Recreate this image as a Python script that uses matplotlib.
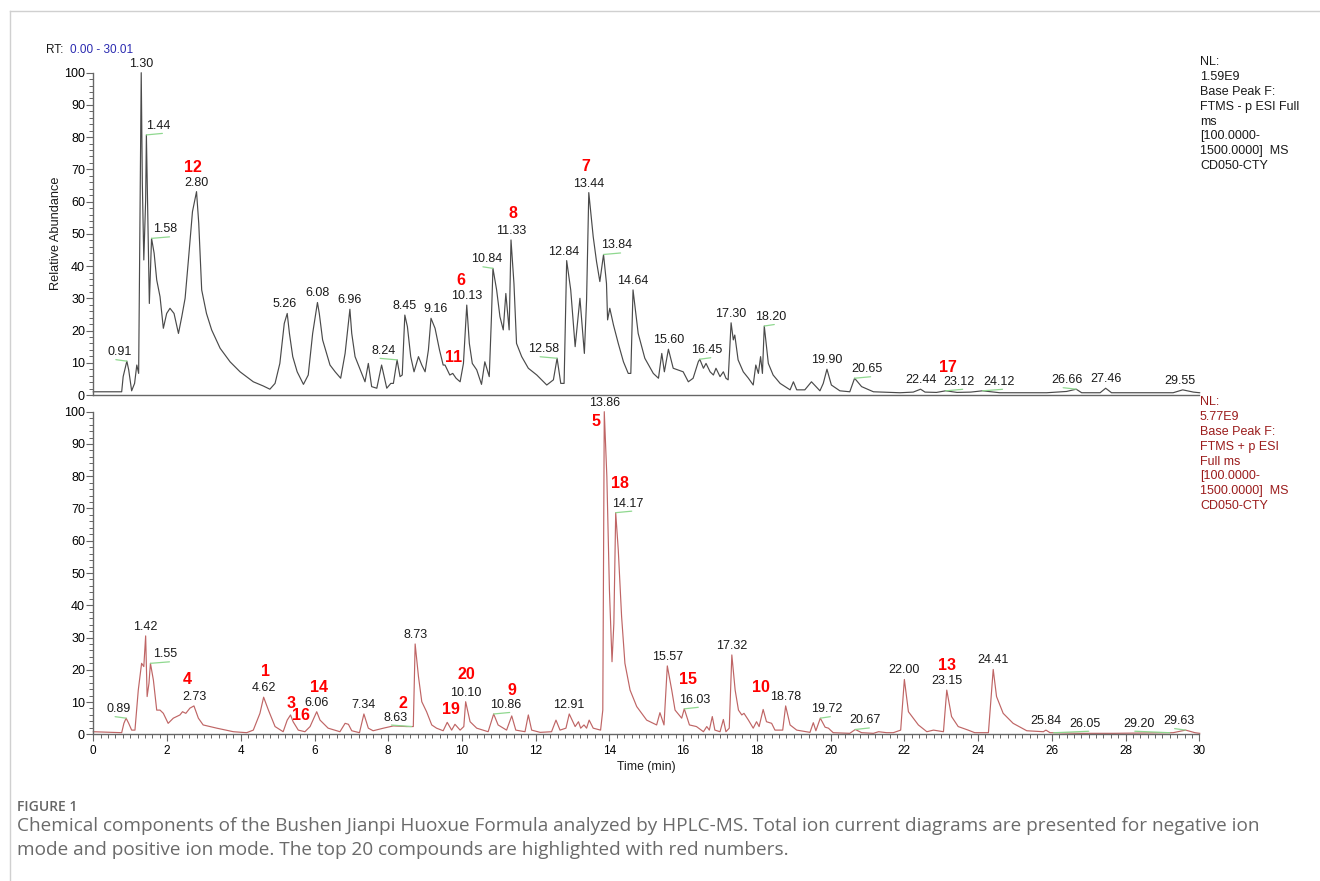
import numpy as np
import matplotlib.pyplot as plt
from matplotlib.lines import Line2D
from matplotlib.ticker import MultipleLocator

plt.rcParams['font.family'] = ['Liberation Sans', 'DejaVu Sans']

# negative ion mode, base peak chromatogram (time [min], relative abundance [%])
neg_time = [0.00, 0.77, 0.81, 0.91, 0.96, 1.04, 1.12, 1.18, 1.23, 1.30, 1.33, 1.37,
            1.42, 1.44, 1.48, 1.52, 1.58, 1.65, 1.72, 1.81, 1.90, 1.99, 2.08, 2.19,
            2.31, 2.40, 2.49, 2.58, 2.69, 2.80, 2.86, 2.94, 3.07, 3.21, 3.44, 3.71,
            3.98, 4.34, 4.61, 4.79, 4.93, 5.06, 5.18, 5.26, 5.32, 5.41, 5.53, 5.70,
            5.83, 5.95, 6.08, 6.13, 6.22, 6.42, 6.56, 6.71, 6.83, 6.96, 7.01, 7.10,
            7.19, 7.28, 7.37, 7.46, 7.55, 7.69, 7.82, 7.96, 8.07, 8.14, 8.24, 8.32,
            8.38, 8.45, 8.52, 8.61, 8.70, 8.82, 8.91, 9.00, 9.09, 9.16, 9.27, 9.39,
            9.49, 9.54, 9.67, 9.75, 9.84, 9.95, 10.04, 10.13, 10.20, 10.28, 10.40, 10.53,
            10.62, 10.74, 10.80, 10.84, 10.94, 11.03, 11.12, 11.19, 11.28, 11.33, 11.41, 11.48,
            11.62, 11.80, 12.03, 12.30, 12.48, 12.58, 12.68, 12.77, 12.84, 12.95, 13.07, 13.20,
            13.32, 13.38, 13.44, 13.56, 13.65, 13.74, 13.84, 13.92, 13.95, 14.01, 14.11, 14.24,
            14.38, 14.51, 14.58, 14.64, 14.78, 14.96, 15.19, 15.33, 15.42, 15.49, 15.60, 15.73,
            16.00, 16.14, 16.27, 16.41, 16.45, 16.55, 16.62, 16.73, 16.82, 16.89, 17.00, 17.09,
            17.16, 17.22, 17.30, 17.36, 17.40, 17.49, 17.63, 17.77, 17.90, 17.97, 18.04, 18.10,
            18.15, 18.20, 18.31, 18.44, 18.63, 18.90, 18.99, 19.08, 19.30, 19.48, 19.71, 19.80,
            19.90, 20.02, 20.25, 20.52, 20.65, 20.84, 21.16, 21.61, 21.88, 22.24, 22.44, 22.56,
            22.87, 23.12, 23.43, 23.80, 24.12, 24.59, 25.86, 26.40, 26.66, 26.81, 27.31, 27.46,
            27.62, 29.29, 29.55, 29.84, 30.01]
neg_abund = [1.0, 1.0, 5.7, 10.5, 7.8, 1.3, 3.6, 9.3, 6.7, 100.0, 65.7, 41.9,
             60.5, 80.7, 55.3, 28.4, 48.6, 44.0, 35.7, 30.5, 20.7, 25.3, 26.9, 25.3,
             19.1, 24.3, 30.0, 41.9, 56.9, 63.1, 53.3, 32.6, 25.3, 20.2, 14.5, 10.3,
             7.2, 4.1, 2.8, 1.8, 3.6, 9.8, 22.2, 25.3, 19.1, 11.9, 7.2, 3.3,
             6.2, 19.1, 28.7, 25.3, 17.1, 9.3, 7.2, 5.2, 12.9, 26.6, 19.1, 11.9,
             9.3, 6.7, 4.1, 9.8, 2.6, 2.1, 9.3, 2.1, 3.6, 3.6, 10.9, 5.7,
             6.2, 24.8, 21.2, 11.9, 7.2, 11.9, 9.3, 7.2, 14.0, 23.8, 20.7, 14.0,
             9.3, 9.3, 6.2, 6.7, 5.2, 4.1, 9.8, 27.9, 16.0, 9.8, 7.8, 3.3,
             10.3, 5.7, 24.3, 39.3, 32.6, 24.3, 20.2, 31.5, 20.2, 48.1, 34.6, 16.0,
             11.9, 8.3, 6.2, 3.1, 4.7, 11.4, 3.6, 3.6, 41.7, 32.6, 15.0, 30.0,
             12.9, 29.5, 62.8, 49.1, 41.4, 35.2, 43.6, 34.6, 23.3, 26.9, 21.7, 16.0,
             10.3, 6.7, 6.7, 32.6, 19.1, 11.4, 6.7, 5.2, 12.9, 7.2, 14.2, 8.3,
             7.2, 4.1, 5.2, 10.3, 11.1, 8.3, 9.8, 7.2, 6.2, 8.3, 5.7, 7.2,
             5.2, 4.7, 22.4, 17.1, 18.6, 10.9, 7.2, 5.2, 3.1, 9.3, 6.7, 11.9,
             6.7, 21.4, 9.8, 6.2, 3.6, 1.6, 4.1, 1.6, 1.6, 4.1, 1.3, 3.6,
             8.0, 3.1, 1.3, 1.0, 5.2, 2.6, 1.0, 0.8, 0.7, 0.9, 1.8, 0.9,
             0.8, 1.3, 0.8, 0.9, 1.3, 0.7, 0.7, 1.1, 1.8, 0.7, 0.7, 2.1,
             0.7, 0.7, 1.6, 0.9, 0.7]

# positive ion mode, base peak chromatogram
pos_time = [0.00, 0.77, 0.83, 0.89, 0.96, 1.04, 1.13, 1.22, 1.31, 1.37, 1.42, 1.46,
            1.51, 1.55, 1.63, 1.72, 1.81, 1.90, 2.03, 2.17, 2.35, 2.42, 2.51, 2.62,
            2.73, 2.85, 2.98, 3.35, 3.80, 4.16, 4.34, 4.52, 4.62, 4.75, 4.93, 5.15,
            5.26, 5.35, 5.42, 5.56, 5.74, 5.88, 6.06, 6.15, 6.37, 6.69, 6.83, 6.92,
            7.01, 7.22, 7.34, 7.46, 7.59, 7.87, 8.14, 8.50, 8.68, 8.73, 8.82, 8.91,
            9.04, 9.18, 9.31, 9.49, 9.60, 9.72, 9.81, 9.95, 10.05, 10.10, 10.22, 10.40,
            10.71, 10.86, 10.98, 11.21, 11.35, 11.46, 11.71, 11.80, 11.89, 12.12, 12.43, 12.55,
            12.66, 12.82, 12.91, 13.07, 13.16, 13.22, 13.31, 13.38, 13.45, 13.56, 13.76, 13.82,
            13.86, 13.93, 14.00, 14.07, 14.12, 14.17, 14.24, 14.33, 14.42, 14.56, 14.74, 15.01,
            15.28, 15.37, 15.48, 15.57, 15.69, 15.78, 15.96, 16.03, 16.17, 16.36, 16.55, 16.64,
            16.71, 16.79, 16.86, 17.00, 17.09, 17.16, 17.25, 17.32, 17.41, 17.50, 17.59, 17.65,
            17.77, 17.90, 17.99, 18.06, 18.17, 18.26, 18.40, 18.49, 18.70, 18.78, 18.90, 19.08,
            19.44, 19.53, 19.60, 19.72, 19.85, 19.94, 20.07, 20.52, 20.67, 20.84, 21.16, 21.30,
            21.52, 21.70, 21.90, 22.00, 22.11, 22.24, 22.38, 22.61, 22.79, 23.06, 23.15, 23.28,
            23.46, 23.73, 23.91, 24.28, 24.41, 24.50, 24.68, 24.95, 25.32, 25.77, 25.84, 25.95,
            26.76, 27.67, 29.29, 29.63, 29.88, 30.01]
pos_abund = [0.8, 0.5, 3.4, 5.0, 3.4, 1.3, 1.3, 13.7, 22.0, 21.0, 30.5, 11.7,
             15.8, 22.0, 16.8, 7.5, 7.5, 6.5, 3.4, 5.0, 6.0, 7.0, 6.5, 8.1,
             8.8, 5.0, 2.9, 1.9, 0.8, 0.5, 1.3, 6.5, 11.5, 7.5, 2.4, 0.8,
             4.4, 6.0, 3.9, 1.3, 0.8, 2.4, 7.0, 4.4, 1.9, 0.8, 3.4, 3.1,
             1.1, 0.5, 6.3, 1.9, 1.1, 1.9, 2.6, 2.4, 2.4, 28.0, 17.9, 10.1,
             7.0, 2.9, 1.9, 1.1, 3.7, 1.3, 3.1, 1.3, 2.4, 10.1, 3.9, 1.9,
             0.8, 6.3, 2.9, 1.3, 5.7, 1.3, 0.8, 6.0, 1.3, 0.6, 0.8, 4.4,
             1.3, 1.9, 6.3, 2.4, 3.9, 1.9, 2.9, 1.9, 4.4, 1.9, 1.3, 7.5,
             100.0, 79.9, 44.7, 22.5, 34.4, 68.7, 57.1, 36.5, 22.0, 13.7, 8.6, 4.4,
             2.9, 6.7, 2.9, 21.2, 13.7, 7.5, 5.0, 7.9, 2.9, 2.4, 0.8, 2.4,
             1.3, 5.5, 1.3, 0.8, 4.6, 0.8, 1.9, 24.6, 13.7, 7.5, 6.0, 6.5,
             4.4, 1.9, 3.9, 2.4, 7.7, 3.9, 3.4, 1.3, 1.3, 8.8, 2.9, 1.3,
             0.6, 3.6, 1.1, 5.0, 2.2, 1.9, 0.5, 0.3, 1.5, 0.5, 0.3, 0.8,
             0.5, 0.5, 1.3, 17.0, 7.0, 5.0, 2.9, 0.8, 1.3, 0.8, 13.7, 5.5,
             2.4, 1.3, 0.5, 0.5, 20.1, 11.7, 6.5, 3.4, 1.1, 0.8, 1.3, 0.5,
             0.3, 0.3, 0.5, 1.3, 0.5, 0.3]

# retention time labels printed above the peaks
neg_peaks = ['0.91', '1.30', '1.44', '1.58', '2.80', '5.26', '6.08', '6.96', '8.24',
             '8.45', '9.16', '10.13', '10.84', '11.33', '12.58', '12.84', '13.44',
             '13.84', '14.64', '15.60', '16.45', '17.30', '18.20', '19.90', '20.65',
             '22.44', '23.12', '24.12', '26.66', '27.46', '29.55']
pos_peaks = ['0.89', '1.42', '1.55', '2.73', '4.62', '6.06', '7.34', '8.63', '8.73',
             '10.10', '10.86', '12.91', '13.86', '14.17', '15.57', '16.03', '17.32',
             '18.78', '19.72', '20.67', '22.00', '23.15', '24.41', '25.84', '26.05',
             '29.20', '29.63']

# top 20 compounds (red number, retention time label it sits next to)
neg_compounds = [('12', '2.80'), ('11', '10.13'), ('6', '10.13'), ('8', '11.33'),
                 ('7', '13.44'), ('17', '23.12')]
pos_compounds = [('4', '2.73'), ('1', '4.62'), ('3', '6.06'), ('16', '6.06'),
                 ('14', '6.06'), ('2', '8.63'), ('19', '10.10'), ('20', '10.10'),
                 ('9', '10.86'), ('5', '13.86'), ('18', '14.17'), ('15', '16.03'),
                 ('10', '18.78'), ('13', '23.15')]

neg_info = ['NL:', '1.59E9', 'Base Peak F:', 'FTMS - p ESI Full', 'ms',
            '[100.0000-', '1500.0000]  MS', 'CD050-CTY']
pos_info = ['NL:', '5.77E9', 'Base Peak F:', 'FTMS + p ESI', 'Full ms',
            '[100.0000-', '1500.0000]  MS', 'CD050-CTY']

caption_title = 'FIGURE 1'
caption = ('Chemical components of the Bushen Jianpi Huoxue Formula analyzed by HPLC-MS. '
           'Total ion current diagrams are presented for negative ion\n'
           'mode and positive ion mode. The top 20 compounds are highlighted with red numbers.')

# --- layout (pixel offsets of labels from their peaks) ---
PX = 0.72  # points per pixel at dpi 100
label_dx = {'0.91': -7, '1.44': 12, '1.58': 14, '5.26': -3, '8.24': -13, '9.16': 5,
            '10.84': -6, '12.58': -13, '12.84': -3, '13.84': 13, '16.45': 7,
            '18.20': 6, '20.65': 12, '23.12': 13, '24.12': 16, '26.66': -9,
            '29.55': -3,
            '0.89': -7, '1.55': 15, '8.63': -16, '10.86': 12, '14.17': 12,
            '16.03': 10, '19.72': 6, '20.67': 10, '26.05': 31, '29.20': -31,
            '29.63': -7}
red_shift = {'12': (-4, -15), '6': (-6, -16), '11': (-13, 61), '8': (2, -17),
             '7': (-3, -17), '17': (-11, -14),
             '4': (-7, -17), '1': (2, -17), '3': (-26, 1), '16': (-16, 13),
             '14': (2, -15), '2': (7, -14), '19': (-15, 17), '20': (1, -18),
             '9': (6, -14), '5': (-8, 19), '18': (-8, -20), '15': (-6, -20),
             '10': (-25, -9), '13': (0, -16)}


def draw_panel(ax, t, y, color, peaks, compounds):
    ax.plot(t, y, color=color, lw=0.85, clip_on=False)
    for p in peaks:
        rt = float(p)
        yp = np.interp(rt, t, y)
        dx = label_dx.get(p, 0)
        ax.annotate(p, xy=(rt, yp), xytext=(dx * PX, 9 * PX),
                    textcoords='offset points', ha='center', va='center',
                    fontsize=9, color='#1a1a1a', annotation_clip=False)
        if abs(dx) >= 6:  # green peak marker
            end = dx + np.sign(dx) * 4
            ax.annotate('', xy=(rt, yp), xytext=(end * PX, 1.5 * PX),
                        textcoords='offset points', annotation_clip=False,
                        arrowprops=dict(arrowstyle='-', color='#8fd88f', lw=0.9,
                                        shrinkA=0, shrinkB=0))
    for num, p in compounds:
        rt = float(p)
        yp = np.interp(rt, t, y)
        cdx, cdy = red_shift[num]
        ax.annotate(num, xy=(rt, yp),
                    xytext=((label_dx.get(p, 0) + cdx) * PX, (9 - cdy) * PX),
                    textcoords='offset points', ha='center', va='center',
                    fontsize=11.5, fontweight='bold', color='#ff0000',
                    annotation_clip=False)


def style_axis(ax):
    for s in ['top', 'right']:
        ax.spines[s].set_visible(False)
    for s in ['left', 'bottom']:
        ax.spines[s].set_color('#666666')
        ax.spines[s].set_linewidth(1.0)
    ax.set_xlim(0, 30)
    ax.set_ylim(0, 100)
    ax.yaxis.set_major_locator(MultipleLocator(10))
    ax.yaxis.set_minor_locator(MultipleLocator(2))
    ax.tick_params(axis='y', which='major', length=5, width=0.8, color='#666666',
                   labelsize=9, pad=1)
    ax.tick_params(axis='y', which='minor', length=3, width=0.7, color='#666666')
    ax.patch.set_alpha(0)


fig = plt.figure(figsize=(13.2, 8.81), dpi=100)
W, H = 1320, 881

ax1 = fig.add_axes([93.3 / W, 1 - 395 / H, 1106 / W, 322.3 / H])
ax2 = fig.add_axes([93.3 / W, 1 - 734.3 / H, 1106 / W, 322.6 / H])

draw_panel(ax1, neg_time, neg_abund, '#4a4a4a', neg_peaks, neg_compounds)
draw_panel(ax2, pos_time, pos_abund, '#bf6565', pos_peaks, pos_compounds)

style_axis(ax1)
style_axis(ax2)
ax1.tick_params(axis='x', which='both', bottom=False, labelbottom=False)
ax2.xaxis.set_major_locator(MultipleLocator(2))
ax2.xaxis.set_minor_locator(MultipleLocator(0.2))
ax2.tick_params(axis='x', which='major', length=5, width=0.8, color='#666666',
                labelsize=8.5, pad=3)
ax2.tick_params(axis='x', which='minor', length=3, width=0.7, color='#666666')

fig.text(56 / W, 1 - 233 / H, 'Relative Abundance', rotation=90, ha='center',
         va='center', fontsize=9.2, color='#1a1a1a')
fig.text(646.5 / W, 1 - 767 / H, 'Time (min)', ha='center', va='center',
         fontsize=8.8, color='#1a1a1a')

fig.text(46 / W, 1 - 50 / H, 'RT:', ha='left', va='center', fontsize=8.5,
         color='#1a1a1a')
fig.text(70 / W, 1 - 50 / H, '0.00 - 30.01', ha='left', va='center', fontsize=8.5,
         color='#2a2ab0')

fig.text(1200 / W, 1 - 56 / H, '\n'.join(neg_info), ha='left', va='top',
         fontsize=9, linespacing=1.32, color='#1a1a1a')
fig.text(1200 / W, 1 - 396 / H, '\n'.join(pos_info), ha='left', va='top',
         fontsize=9, linespacing=1.32, color='#9b1c1c')

fig.text(17 / W, 1 - 807 / H, caption_title, ha='left', va='center',
         fontsize=10, fontweight='semibold', color='#666666',
         family=['Open Sans', 'DejaVu Sans'])
fig.text(17 / W, 1 - 817 / H, caption, ha='left', va='top', fontsize=13.7,
         linespacing=1.4, color='#6a6a6a', family=['Open Sans', 'DejaVu Sans'])

# light frame around the figure
fig.add_artist(Line2D([9.5 / W, 9.5 / W], [0, 1 - 11 / H], color='#d0d0d0', lw=1))
fig.add_artist(Line2D([9.5 / W, 1], [1 - 11 / H, 1 - 11 / H], color='#d0d0d0', lw=1))

fig.savefig('out.png', dpi=100)
